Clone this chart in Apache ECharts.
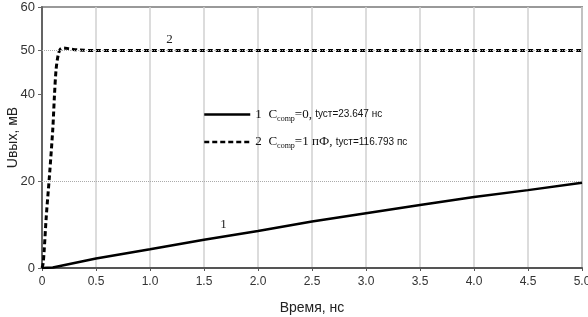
<!DOCTYPE html>
<html>
<head>
<meta charset="utf-8">
<script src="https://cdn.jsdelivr.net/npm/echarts@6/dist/echarts.min.js"></script>
<style>html,body{margin:0;padding:0;background:#fff}#c{width:588px;height:317px}</style>
</head>
<body>
<div id="c"></div>
<script>
// Series 1: C_comp = 0 (solid)
const s1X = [0, 0.1, 0.5, 1.0, 1.5, 2.0, 2.5, 3.0, 3.5, 4.0, 4.5, 5.0];
const s1Y = [0, 0.1, 2.2, 4.3, 6.5, 8.5, 10.7, 12.6, 14.5, 16.3, 17.9, 19.6];
// Series 2: C_comp = 1 pF (dashed)
const s2X = [0, 0.01, 0.02, 0.04, 0.07, 0.1, 0.115, 0.13, 0.15, 0.17, 0.2, 0.25, 0.35, 0.5, 5.0];
const s2Y = [0, 1, 4, 12, 21.5, 32, 39.5, 45.5, 49, 50.3, 50.6, 50.4, 50.1, 50, 50];
const yTicks = [0, 20, 40, 50, 60];
const yGridLines = [20, 50];
const curveLabels = [{name: '1', x: 1.68, y: 9.9}, {name: '2', x: 1.18, y: 52.6}];

const zip = (xs, ys) => xs.map((x, i) => [x, ys[i]]);
const chart = echarts.init(document.getElementById('c'), null, {renderer: 'canvas'});
const serif = '"Liberation Serif", "DejaVu Serif", serif';
const sans = '"Liberation Sans", Arial, sans-serif';

const rich = {
  n: {fontFamily: serif, fontSize: 13, color: '#111', lineHeight: 16},
  c: {fontFamily: serif, fontSize: 13, color: '#111', lineHeight: 16},
  s: {fontFamily: serif, fontSize: 8, color: '#111', lineHeight: 16, verticalAlign: 'bottom', padding: [5, 0, 0, 0]},
  t: {fontFamily: sans, fontSize: 10, color: '#111', lineHeight: 16}
};

chart.setOption({
  animation: false,
  backgroundColor: '#fff',
  color: ['#000', '#000'],
  grid: {left: 42, right: 6, top: 7, bottom: 49, containLabel: false, outerBoundsMode: 'none',
    show: true, borderColor: '#999', borderWidth: 2, backgroundColor: 'transparent'},
  legend: {
    orient: 'vertical', left: 198, top: 103, itemWidth: 46, itemHeight: 14, itemGap: 13,
    itemStyle: {opacity: 0},
    lineStyle: {width: 2.5},
    data: ['1', '2'],
    formatter: function (name) {
      if (name === '1') return '{n|1}  {c|C}{s|comp}{c|=0, }{t|tуст=23.647 нс}';
      return '{n|2}  {c|C}{s|comp}{c|=1 пФ, }{t|tуст=116.793 пс}';
    },
    textStyle: {rich: rich}
  },
  xAxis: {
    type: 'value', min: 0, max: 5, interval: 0.5,
    name: 'Время, нс', nameLocation: 'middle', nameGap: 33, nameMoveOverlap: false,
    nameTextStyle: {fontFamily: sans, fontSize: 14, color: '#222'},
    axisLine: {show: true, lineStyle: {color: '#555', width: 2}},
    axisTick: {show: true, length: 3, lineStyle: {color: '#555'}},
    axisLabel: {fontFamily: sans, fontSize: 12, color: '#333', margin: 8,
      formatter: v => v === 0 ? '0' : v.toFixed(1)},
    splitLine: {show: true, lineStyle: {color: '#d0d0d0', width: 1.5}}
  },
  yAxis: {
    type: 'value', min: 0, max: 60, interval: 10,
    name: 'Uвых, мВ', nameLocation: 'middle', nameGap: 22, nameMoveOverlap: false,
    nameTextStyle: {fontFamily: sans, fontSize: 14, color: '#222'},
    axisLine: {show: true, lineStyle: {color: '#444', width: 1.5}},
    axisTick: {show: true, length: 4, customValues: yTicks, lineStyle: {color: '#666'}},
    axisLabel: {fontFamily: sans, fontSize: 13, color: '#333', margin: 7, customValues: yTicks},
    splitLine: {show: false}
  },
  series: [
    {
      name: '1', type: 'line', data: zip(s1X, s1Y), symbol: 'none',
      itemStyle: {color: '#000'},
      lineStyle: {color: '#000', width: 2.5}, z: 3,
      markLine: {
        silent: true, symbol: 'none', label: {show: false},
        lineStyle: {color: '#aaa', type: 'dotted', width: 1},
        data: yGridLines.map(v => ({yAxis: v}))
      },
      markPoint: {
        symbol: 'circle', symbolSize: 0,
        label: {show: true, position: 'inside', fontFamily: serif, fontSize: 13, color: '#222', formatter: p => p.name},
        data: curveLabels.map(l => ({name: l.name, coord: [l.x, l.y]}))
      }
    },
    {
      name: '2', type: 'line', data: zip(s2X, s2Y), symbol: 'none', smooth: 0.3,
      itemStyle: {color: '#000'},
      lineStyle: {color: '#000', width: 3, type: [5, 3]}, z: 4
    }
  ]
});
</script>
</body>
</html>
